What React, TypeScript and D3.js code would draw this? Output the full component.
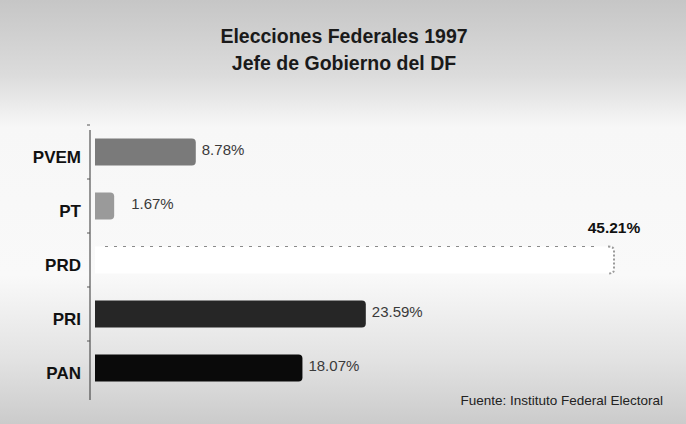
import React from "react";
import { scaleBand, scaleLinear } from "d3";

const parties = ["PVEM", "PT", "PRD", "PRI", "PAN"];
const votes = [8.78, 1.67, 45.21, 23.59, 18.07];
const barFills = ["#7a7a7a", "#9a9a9a", "#ffffff", "#262626", "#0a0a0a"];
const titleLines = ["Elecciones Federales 1997", "Jefe de Gobierno del DF"];
const source = "Fuente: Instituto Federal Electoral";

const W = 686;
const H = 424;
const axisX = 90;

export default function App() {
  const y = scaleBand<string>()
    .domain(parties)
    .range([125, 395])
    .paddingInner(0.5)
    .paddingOuter(0.25);

  const x = scaleLinear().domain([0, 45.21]).range([95, 614]);

  const font = "'Liberation Sans', Arial, sans-serif";

  return (
    <svg
      width={W}
      height={H}
      style={{ position: "absolute", left: 0, top: 0 }}
      fontFamily={font}
    >
      <defs>
        <linearGradient id="bg" x1="0" y1="0" x2="0" y2="1">
          <stop offset="0" stopColor="#c6c6c6" />
          <stop offset="0.18" stopColor="#dcdcdc" />
          <stop offset="0.3" stopColor="#f7f7f7" />
          <stop offset="0.65" stopColor="#f9f9f9" />
          <stop offset="0.85" stopColor="#e2e2e2" />
          <stop offset="1" stopColor="#cbcbcb" />
        </linearGradient>
      </defs>
      <rect x={0} y={0} width={W} height={H} fill="url(#bg)" />

      {/* title */}
      {titleLines.map((t, i) => (
        <text
          key={t}
          x={344}
          y={43 + i * 27}
          textAnchor="middle"
          fontSize={19.5}
          fontWeight="bold"
          fill="#1a1a1a"
        >
          {t}
        </text>
      ))}

      {/* axis */}
      <line x1={axisX} x2={axisX} y1={130} y2={400} stroke="#333" strokeWidth={1} />
      {parties.map((p) => (
        <line
          key={p + "t"}
          x1={axisX - 3}
          x2={axisX}
          y1={(y(p) ?? 0) - y.step() * 0.25}
          y2={(y(p) ?? 0) - y.step() * 0.25}
          stroke="#555"
        />
      ))}

      {/* bars */}
      {parties.map((p, i) => {
        const y0 = y(p) ?? 0;
        const bw = y.bandwidth();
        const x1 = x(votes[i]);
        const w = x1 - x(0);
        const r = 4;
        const path = `M${x(0)},${y0}H${x1 - r}Q${x1},${y0} ${x1},${y0 + r}V${y0 + bw - r}Q${x1},${y0 + bw} ${x1 - r},${y0 + bw}H${x(0)}Z`;
        const isPRD = p === "PRD";
        return (
          <g key={p}>
            <path d={path} fill={barFills[i]} />
            {isPRD && (
              <>
                {/* faint top edge and grey end of the white bar */}
                <line
                  x1={x(0) + 10}
                  x2={x1 - 20}
                  y1={y0}
                  y2={y0}
                  stroke="#8a8a8a"
                  strokeDasharray="3 6"
                />
                <path
                  d={`M${x1 - 6},${y0}Q${x1},${y0} ${x1},${y0 + r}V${y0 + bw - r}Q${x1},${y0 + bw} ${x1 - 6},${y0 + bw}`}
                  fill="none"
                  stroke="#9a9a9a"
                  strokeWidth={2}
                  strokeDasharray="2 2"
                />
                <text
                  x={x1}
                  y={y0 - 14}
                  textAnchor="middle"
                  fontSize={15.5}
                  fontWeight="bold"
                  fill="#111"
                >
                  {votes[i].toFixed(2)}%
                </text>
              </>
            )}
            {!isPRD && (
              <text
                x={x1 + (w < 40 ? 17 : 6)}
                y={y0 + bw / 2 - 1}
                dominantBaseline="middle"
                fontSize={15}
                fill="#3a3a3a"
              >
                {votes[i].toFixed(2)}%
              </text>
            )}
            <text
              x={axisX - 9}
              y={y0 + bw / 2 + 7}
              textAnchor="end"
              dominantBaseline="middle"
              fontSize={17}
              fontWeight="bold"
              fill="#111"
            >
              {p}
            </text>
          </g>
        );
      })}

      {/* source */}
      <text x={663} y={405} textAnchor="end" fontSize={13.5} fill="#222">
        {source}
      </text>
    </svg>
  );
}
